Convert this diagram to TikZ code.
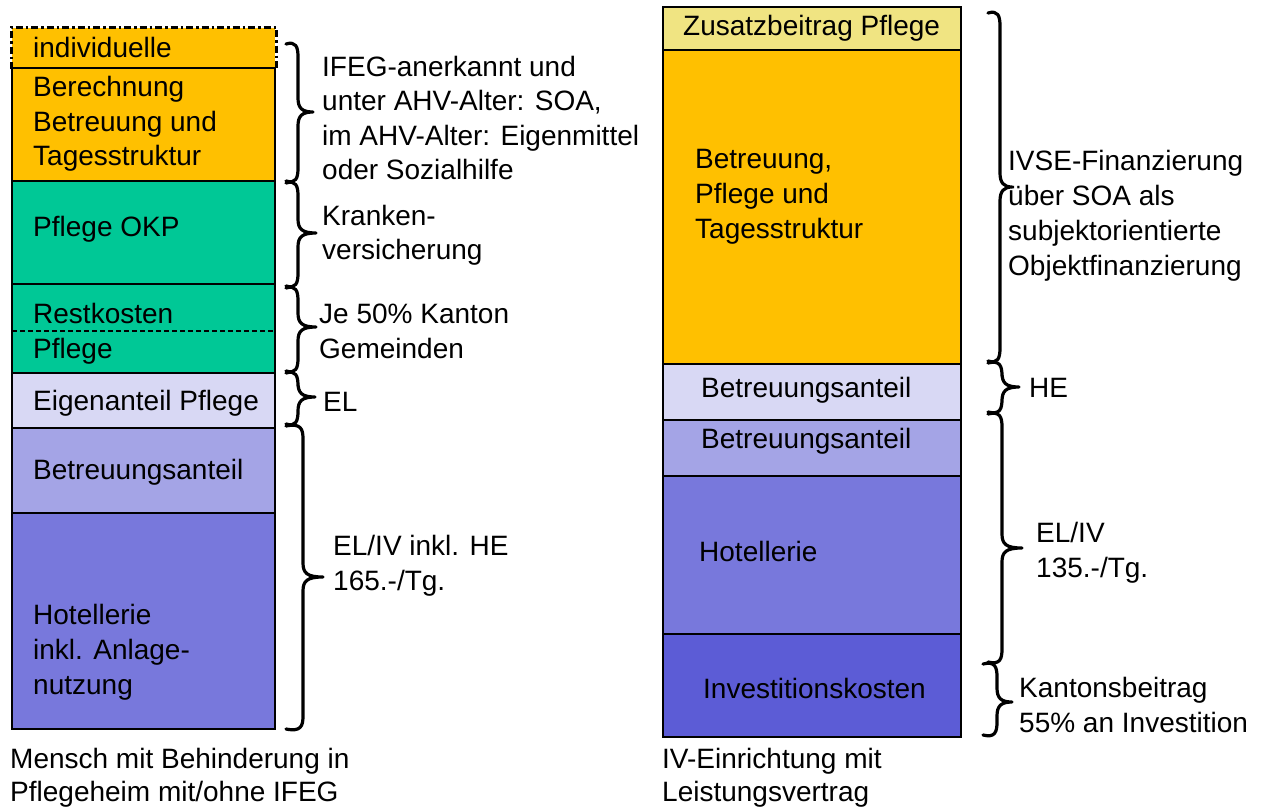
\documentclass[tikz,border=0pt]{standalone}
\usepackage{fontspec}
\setmainfont{Liberation Sans}
\definecolor{cOrange}{RGB}{255,192,0}
\definecolor{cGreen}{RGB}{0,200,150}
\definecolor{cLav}{RGB}{216,216,244}
\definecolor{cMid}{RGB}{164,164,230}
\definecolor{cHotel}{RGB}{120,120,220}
\definecolor{cInv}{RGB}{92,92,214}
\definecolor{cYel}{RGB}{240,228,130}
\newcommand\cbrace[6]{%
  \draw[brc] (#1,{#4+1}) .. controls ({#2-2},{#4-2}) and (#2,{#4+4}) .. ({#2},{#4+14}) -- ({#2},{#5-14})
   .. controls ({#2},{#5-4}) and ({#2+4},{#5}) .. (#3,#5) .. controls ({#2+4},{#5}) and ({#2},{#5+4}) .. ({#2},{#5+14})
   -- ({#2},{#6-14}) .. controls (#2,{#6-4}) and ({#2-2},{#6+2}) .. (#1,{#6-1});}
\begin{document}
\begin{tikzpicture}[x=1pt,y=-1pt,
  box/.style={draw=black, line width=2pt, inner sep=0pt, anchor=north west},
  lbl/.style={anchor=base west, inner sep=0pt, font=\fontsize{28}{34}\selectfont},
  brc/.style={line width=3.2pt, line cap=round, line join=round},
  dashdot/.style={line width=3pt, dash pattern=on 7pt off 3pt on 2.5pt off 3pt},
  restdash/.style={line width=1.2pt, dash pattern=on 5pt off 3pt}]
\useasboundingbox (0,0) rectangle (1275,809);
\fill[white] (0,0) rectangle (1275,809);

% ---- left column ----
\node[box, draw=none, fill=cOrange, minimum width=263pt, minimum height=40pt] (indiv) at (11,27) {};
\draw[dashdot] (indiv.south west) -- (indiv.north west) -- (indiv.north east) -- (indiv.south east);
\node[box, fill=cOrange, minimum width=263pt, minimum height=113pt] (berech) at (11,67) {};
\node[box, fill=cGreen, minimum width=263pt, minimum height=103pt] (okp) at (11,180) {};
\node[box, fill=cGreen, minimum width=263pt, minimum height=89pt] (rest) at (11,283) {};
\coordinate (rd1) at (12,331);
\coordinate (rd2) at (273,331);
\draw[restdash] (rd1) -- (rd2);
\node[box, fill=cLav, minimum width=263pt, minimum height=55pt] (eigen) at (11,372) {};
\node[box, fill=cMid, minimum width=263pt, minimum height=85pt] (betrL) at (11,427) {};
\node[box, fill=cHotel, minimum width=263pt, minimum height=216pt] (hotelL) at (11,512) {};

\node[lbl] (t1) at (33,57) {individuelle};
\node[lbl] (t2) at (33,96) {Berechnung};
\node[lbl] (t3) at (33,131) {Betreuung und};
\node[lbl] (t4) at (33,165) {Tagesstruktur};
\node[lbl] (t5) at (33,236) {Pflege OKP};
\node[lbl] (t6) at (33,323) {Restkosten};
\node[lbl] (t7) at (33,358) {Pflege};
\node[lbl] (t8) at (33,410) {Eigenanteil Pflege};
\node[lbl] (t9) at (33,479) {Betreuungsanteil};
\node[lbl] (t10) at (33,624) {Hotellerie};
\node[lbl] (t11) at (33,659) {inkl. Anlage-};
\node[lbl] (t12) at (33,694) {nutzung};

% left annotations
\cbrace{286}{298}{313}{43}{112}{182}
\cbrace{286}{298}{316}{182}{233}{287}
\cbrace{286}{298}{316}{287}{327}{372}
\cbrace{286}{298}{315}{372}{397}{425}
\cbrace{286}{303}{323}{425}{577}{730}

\node[lbl] (a1) at (322,76) {IFEG-anerkannt und};
\node[lbl] (a2) at (322,110) {unter AHV-Alter: SOA,};
\node[lbl] (a3) at (322,145) {im AHV-Alter: Eigenmittel};
\node[lbl] (a4) at (322,179) {oder Sozialhilfe};
\node[lbl] (a5) at (322,225) {Kranken-};
\node[lbl] (a6) at (322,259) {versicherung};
\node[lbl] (a7) at (319,323) {Je 50\% Kanton};
\node[lbl] (a8) at (319,358) {Gemeinden};
\node[lbl] (a9) at (323,411) {EL};
\node[lbl] (a10) at (333,555) {EL/IV inkl. HE};
\node[lbl] (a11) at (333,590) {165.-/Tg.};

\node[lbl] (c1) at (10,768) {Mensch mit Behinderung in};
\node[lbl] (c2) at (10,801) {Pflegeheim mit/ohne IFEG};

% ---- right column ----
\node[box, fill=cYel, minimum width=298pt, minimum height=43pt] (zus) at (662,6) {};
\node[box, fill=cOrange, minimum width=298pt, minimum height=314pt] (bpt) at (662,49) {};
\node[box, fill=cLav, minimum width=298pt, minimum height=56pt] (betrHE) at (662,363) {};
\node[box, fill=cMid, minimum width=298pt, minimum height=56pt] (betrEL) at (662,419) {};
\node[box, fill=cHotel, minimum width=298pt, minimum height=158pt] (hotelR) at (662,475) {};
\node[box, fill=cInv, minimum width=298pt, minimum height=103pt] (inv) at (662,633) {};

\node[lbl] (r1) at (683,35) {Zusatzbeitrag Pflege};
\node[lbl] (r2) at (695,168) {Betreuung,};
\node[lbl] (r3) at (695,203) {Pflege und};
\node[lbl] (r4) at (695,238) {Tagesstruktur};
\node[lbl] (r5) at (701,397) {Betreuungsanteil};
\node[lbl] (r6) at (701,448) {Betreuungsanteil};
\node[lbl] (r7) at (699,561) {Hotellerie};
\node[lbl] (r8) at (703,698) {Investitionskosten};

\cbrace{988}{1000}{1012}{12}{187}{362}
\cbrace{988}{1002}{1019}{362}{387}{413}
\cbrace{988}{1002}{1022}{413}{548}{663}
\cbrace{983}{997}{1012}{663}{702}{736}

\node[lbl] (b1) at (1008,170) {IVSE-Finanzierung};
\node[lbl] (b2) at (1008,205) {über SOA als};
\node[lbl] (b3) at (1008,240) {subjektorientierte};
\node[lbl] (b4) at (1008,275) {Objektfinanzierung};
\node[lbl] (b5) at (1029,397) {HE};
\node[lbl] (b6) at (1036,542) {EL/IV};
\node[lbl] (b7) at (1036,577) {135.-/Tg.};
\node[lbl] (b8) at (1019,697) {Kantonsbeitrag};
\node[lbl] (b9) at (1019,732) {55\% an Investition};

\node[lbl] (c3) at (662,768) {IV-Einrichtung mit};
\node[lbl] (c4) at (662,801) {Leistungsvertrag};
\end{tikzpicture}
\end{document}
